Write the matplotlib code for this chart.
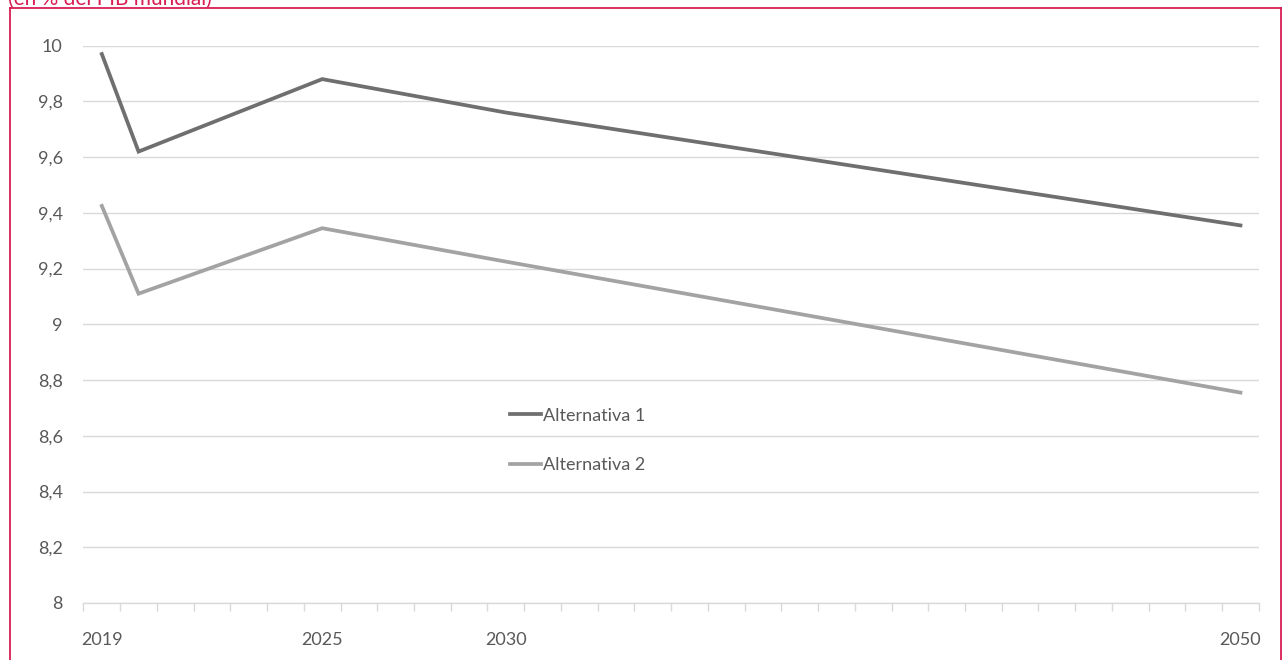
#!/usr/bin/env python3
"""Gasto proyectado, alternativas 1 y 2 (en % del PIB mundial)."""

import numpy as np
import matplotlib.pyplot as plt
from matplotlib.lines import Line2D
from matplotlib.ticker import FixedLocator, FuncFormatter

# Data points (years without a value are simply joined by the line)
years = [2019, 2020, 2025, 2030, 2050]
alternativa_1 = [9.97, 9.62, 9.88, 9.76, 9.355]
alternativa_2 = [9.425, 9.11, 9.345, 9.225, 8.755]
labelled_years = [2019, 2025, 2030, 2050]
y_ticks = [8, 8.2, 8.4, 8.6, 8.8, 9, 9.2, 9.4, 9.6, 9.8, 10]

TEXT_GREY = "#595959"
GRID_GREY = "#d9d9d9"
FRAME_RED = "#d81e54"

plt.rcParams["font.family"] = ["Lato", "DejaVu Sans"]

fig = plt.figure(figsize=(12.84, 6.60), dpi=100)
ax = fig.add_axes([0.065, 0.0864, 0.9154, 0.8444])

ax.plot(years, alternativa_1, color="#6f6f6f", linewidth=2.7,
        solid_joinstyle="miter", label="Alternativa 1")
ax.plot(years, alternativa_2, color="#a3a3a3", linewidth=2.7,
        solid_joinstyle="miter", label="Alternativa 2")

# Category-style axis: one slot per year, ticks between slots
ax.set_xlim(years[0] - 0.5, 2050.5)
ax.set_ylim(8, 10)
ax.xaxis.set_major_locator(FixedLocator(labelled_years))
ax.xaxis.set_minor_locator(FixedLocator(np.arange(2018.5, 2051, 1.0)))
ax.set_yticks(y_ticks)
ax.yaxis.set_major_formatter(
    FuncFormatter(lambda v, _: f"{v:g}".replace(".", ","))
)

ax.tick_params(axis="x", which="major", length=0, pad=21,
               labelsize=13, labelcolor=TEXT_GREY)
ax.tick_params(axis="x", which="minor", length=6, width=1, color=GRID_GREY)
ax.tick_params(axis="y", which="major", length=0, pad=15,
               labelsize=13, labelcolor=TEXT_GREY)

ax.grid(axis="y", color=GRID_GREY, linewidth=1)
ax.set_axisbelow(True)
for side in ("top", "right", "left"):
    ax.spines[side].set_visible(False)
ax.spines["bottom"].set_color(GRID_GREY)
ax.spines["bottom"].set_linewidth(1)

leg = ax.legend(loc="center left", bbox_to_anchor=(0.363, 0.292),
                frameon=False, fontsize=13, handlelength=1.7,
                handletextpad=0.1, labelspacing=1.85,
                borderpad=0, borderaxespad=0)
for text in leg.get_texts():
    text.set_color(TEXT_GREY)

# Red frame around the figure and the cut-off heading above it
W, H = 1284, 660
fig.add_artist(Line2D([9.5 / W, 9.5 / W], [0, 1 - 7.5 / H],
                      color=FRAME_RED, linewidth=1.3))
fig.add_artist(Line2D([9.5 / W, 1280.5 / W], [1 - 7.5 / H, 1 - 7.5 / H],
                      color=FRAME_RED, linewidth=1.3))
fig.add_artist(Line2D([1280.5 / W, 1280.5 / W], [0, 1 - 7.5 / H],
                      color=FRAME_RED, linewidth=1.3))
fig.text(8 / W, 1 - 5 / H, "(en % del PIB mundial)", color=FRAME_RED,
         fontsize=15, va="baseline", ha="left")

fig.savefig("out.png", dpi=100)
